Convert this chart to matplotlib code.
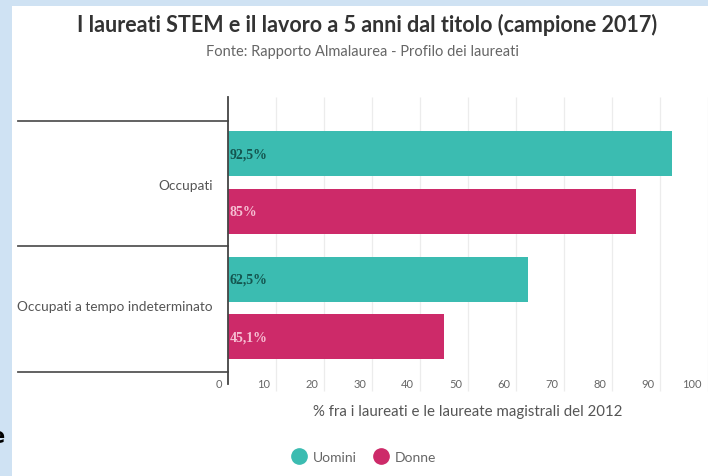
import matplotlib
matplotlib.use("Agg")
import matplotlib.pyplot as plt
from matplotlib.lines import Line2D
from matplotlib.patches import Rectangle
import matplotlib.transforms as mtransforms

# ---- data ----
categories = ["Occupati", "Occupati a tempo indeterminato"]
uomini = [92.5, 62.5]
donne = [85.0, 45.1]
uomini_labels = ["92,5%", "62,5%"]
donne_labels = ["85%", "45,1%"]
xticks = [0, 10, 20, 30, 40, 50, 60, 70, 80, 90, 100]
series_names = ["Uomini", "Donne"]

title = "I laureati STEM e il lavoro a 5 anni dal titolo (campione 2017)"
subtitle = "Fonte: Rapporto Almalaurea - Profilo dei laureati"
xlabel = "% fra i laureati e le laureate magistrali del 2012"

TEAL = "#3bbcb1"
PINK = "#cd2a69"
W, H = 708, 477

plt.rcParams['font.family'] = ['Lato', 'DejaVu Sans']

fig = plt.figure(figsize=(W / 100, H / 100), dpi=100)
fig.patch.set_facecolor("#cfe2f3")
fig.patches.append(Rectangle((12 / W, 0), 1 - 12 / W, (H - 7) / H,
                             transform=fig.transFigure, facecolor="white",
                             edgecolor="none", zorder=-10))

ax_left, ax_right, ax_top, ax_bottom = 228, 708, 98, 385
ax = fig.add_axes([ax_left / W, (H - ax_bottom) / H,
                   (ax_right - ax_left) / W, (ax_bottom - ax_top) / H])
ax.set_facecolor("none")
ax.set_zorder(2)

sep_top, sep_bot = 122, 373
ppu = (sep_bot - sep_top) / 2.0
ax.set_ylim(2 + (ax_bottom - sep_bot) / ppu, -(sep_top - ax_top) / ppu)
ax.set_xlim(0, 100)

bar_h = 0.36
for i in range(len(categories)):
    yc = i + 0.5
    ax.barh(yc - 0.24, uomini[i], height=bar_h, color=TEAL, zorder=2)
    ax.barh(yc + 0.22, donne[i], height=bar_h, color=PINK, zorder=2)
    ax.text(0.4, yc - 0.24, uomini_labels[i], ha="left", va="center",
            fontsize=10, fontweight="bold", family="Liberation Serif",
            color="#14554f", zorder=3)
    ax.text(0.4, yc + 0.22, donne_labels[i], ha="left", va="center",
            fontsize=10, fontweight="bold", family="Liberation Serif",
            color="#f6bfd3", zorder=3)

# gridlines
ylo, yhi = ax.get_ylim()
ax.vlines(xticks[1:], yhi, ylo + 7 / ppu, colors="#ececec", linewidth=0.9,
          zorder=1, clip_on=False)

# spines
for s in ["top", "right", "bottom"]:
    ax.spines[s].set_visible(False)
ax.spines["left"].set_color("#444444")
ax.spines["left"].set_linewidth(1.3)
ax.spines["left"].set_zorder(4)

# category separators
blend = mtransforms.blended_transform_factory(ax.transAxes, ax.transData)
for yv in [0, 1, 2]:
    ax.add_line(Line2D([(18 - ax_left) / (ax_right - ax_left), 0], [yv, yv],
                       transform=blend, color="#555555", linewidth=1.3,
                       clip_on=False))

# x ticks
ax.set_xticks(xticks)
ax.set_xticklabels([str(t) for t in xticks])
ax.tick_params(axis="x", length=0, pad=0, labelsize=8, labelcolor="#666666")
off = mtransforms.ScaledTranslation(-6 / 100, 0, fig.dpi_scale_trans)
for lab in ax.get_xticklabels():
    lab.set_horizontalalignment("right")
    lab.set_verticalalignment("center")
    lab.set_transform(lab.get_transform() + off)

# y ticks (categories)
ax.set_yticks([0.5, 1.47])
ax.set_yticklabels(categories)
ax.tick_params(axis="y", length=0, pad=11, labelsize=9.8, labelcolor="#555555")

ax.set_xlabel(xlabel, fontsize=10.8, color="#555555")
ax.xaxis.set_label_coords(0.5, -(412 - ax_bottom) / (ax_bottom - ax_top))
ax.xaxis.label.set_verticalalignment("center")

# titles
fig.text(367 / W, 1 - 25 / H, title, ha="center", va="center",
         fontsize=15.5, fontweight="bold", color="#333333")
fig.text(362 / W, 1 - 52 / H, subtitle, ha="center", va="center",
         fontsize=10.5, color="#666666")

# legend
handles = [Line2D([], [], marker="o", linestyle="none", markersize=11,
                  markerfacecolor=c, markeredgecolor=c) for c in (TEAL, PINK)]
leg = fig.legend(handles, series_names, loc="center",
                 bbox_to_anchor=(364 / W, 1 - 458 / H), ncol=2, frameon=False,
                 fontsize=10, handletextpad=0.5, columnspacing=1.2,
                 handlelength=1.0)
for t in leg.get_texts():
    t.set_color("#666666")

# stray glyph at left edge of the screenshot
fig.text(4 / W, 1 - 437 / H, "e", ha="right", va="center", fontsize=15,
         fontweight="bold", color="black", family="DejaVu Sans")

fig.savefig("out.png", dpi=100, facecolor=fig.get_facecolor())
